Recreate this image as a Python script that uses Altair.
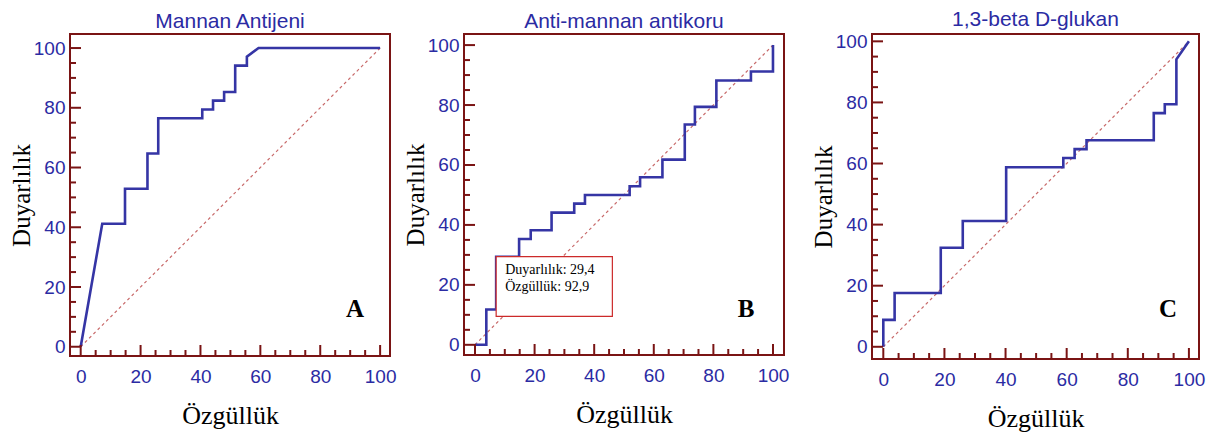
import altair as alt
import pandas as pd

# ---------------- data ----------------
titles = ["Mannan Antijeni", "Anti-mannan antikoru", "1,3-beta D-glukan"]
letters = ["A", "B", "C"]
x_title = "Özgüllük"
y_title = "Duyarlılık"

major_ticks = [0, 20, 40, 60, 80, 100]
minor_ticks = [5, 10, 15, 25, 30, 35, 45, 50, 55, 65, 70, 75, 85, 90, 95]

# Panel A: 100-specificity (x) and sensitivity (y), curve vertices
a_fpr = [0, 7.2, 14.8, 14.8, 22.3, 22.3, 25.9, 25.9, 40.6, 40.6, 44.2, 44.2,
         47.9, 47.9, 51.6, 51.6, 55.5, 55.5, 59.4, 100]
a_tpr = [0, 41.2, 41.2, 52.9, 52.9, 64.7, 64.7, 76.5, 76.5, 79.4, 79.4, 82.4,
         82.4, 85.3, 85.3, 94.1, 94.1, 97.1, 100, 100]

# Panel B
b_fpr = [0, 3.8, 3.8, 7.1, 7.1, 14.8, 14.8, 18.7, 18.7, 25.7, 25.7, 33.3, 33.3,
         36.9, 36.9, 51.9, 51.9, 55.4, 55.4, 62.9, 62.9, 70.4, 70.4, 73.8, 73.8,
         81.0, 81.0, 92.6, 92.6, 100, 100]
b_tpr = [0, 0, 11.8, 11.8, 29.4, 29.4, 35.3, 35.3, 38.2, 38.2, 44.1, 44.1, 47.1,
         47.1, 50.0, 50.0, 52.9, 52.9, 55.9, 55.9, 61.8, 61.8, 73.5, 73.5, 79.4,
         79.4, 88.2, 88.2, 91.2, 91.2, 100]
b_cut_sens = 29.4
b_cut_spec = 92.9

# Panel C
c_fpr = [0, 0, 3.7, 3.7, 18.8, 18.8, 26.0, 26.0, 40.2, 40.2, 58.9, 58.9, 62.6,
         62.6, 66.5, 66.5, 88.5, 88.5, 92.1, 92.1, 95.9, 95.9, 100]
c_tpr = [0, 8.8, 8.8, 17.6, 17.6, 32.4, 32.4, 41.2, 41.2, 58.8, 58.8, 61.8, 61.8,
         64.7, 64.7, 67.6, 67.6, 76.5, 76.5, 79.4, 79.4, 94.1, 100]

# ---------------- styles ----------------
BLUE = "#2b2ba3"
LINE_BLUE = "#3535a5"
FRAME = "#7a1414"
DIAG = "#c86a6a"
SANS = "Liberation Sans"
SERIF = "Liberation Serif"
MAJ_LEN = 11   # px
MIN_LEN = 6    # px


def fmt(v):
    return f"{v:.1f}".replace(".", ",")


def panel(fpr, tpr, title, letter, w, h, xdom, ydom, letter_px, box=False):
    xs = alt.Scale(domain=xdom, nice=False, zero=False)
    ys = alt.Scale(domain=ydom, nice=False, zero=False)
    xpp = (xdom[1] - xdom[0]) / w   # data units per px
    ypp = (ydom[1] - ydom[0]) / h

    xaxis = alt.Axis(values=major_ticks, ticks=False, tickSize=0, domain=False,
                     grid=False, labelPadding=11, labelFont=SANS, labelFontSize=19,
                     labelColor=BLUE, labelFlush=False, labelOverlap=False,
                     title=x_title, titleFont=SERIF, titleFontSize=26,
                     titleFontWeight="normal", titleColor="black", titlePadding=16)
    yaxis = alt.Axis(values=major_ticks, ticks=False, tickSize=0, domain=False,
                     grid=False, labelPadding=5, labelFont=SANS, labelFontSize=19,
                     labelColor=BLUE, labelFlush=False, labelOverlap=False,
                     title=y_title, titleFont=SERIF, titleFontSize=25,
                     titleFontWeight="normal", titleColor="black", titlePadding=-1)

    def X(f):
        return alt.X(f, scale=xs, axis=xaxis)

    def Y(f):
        return alt.Y(f, scale=ys, axis=yaxis)

    curve_df = pd.DataFrame({"x": fpr, "y": tpr, "i": list(range(len(fpr)))})
    diag_df = pd.DataFrame({"x": [major_ticks[0], major_ticks[-1]],
                            "y": [major_ticks[0], major_ticks[-1]]})

    diag = alt.Chart(diag_df).mark_line(color=DIAG, strokeWidth=1.2,
                                        strokeDash=[3, 3]).encode(
        x=X("x:Q"), y=Y("y:Q"))

    curve = alt.Chart(curve_df).mark_line(color=LINE_BLUE, strokeWidth=2.6).encode(
        x=X("x:Q"), y=Y("y:Q"), order=alt.Order("i:Q"))

    def xt(vals, ln):
        df = pd.DataFrame({"x": vals, "y": [ydom[0]] * len(vals),
                           "y2": [ydom[0] + ln * ypp] * len(vals)})
        return alt.Chart(df).mark_rule(color=FRAME, strokeWidth=2).encode(
            x=X("x:Q"), y=Y("y:Q"), y2="y2:Q")

    def yt(vals, ln):
        df = pd.DataFrame({"y": vals, "x": [xdom[0]] * len(vals),
                           "x2": [xdom[0] + ln * xpp] * len(vals)})
        return alt.Chart(df).mark_rule(color=FRAME, strokeWidth=2).encode(
            y=Y("y:Q"), x=X("x:Q"), x2="x2:Q")

    lab = alt.Chart(pd.DataFrame({"t": [letter]})).mark_text(
        font=SERIF, fontSize=25, fontWeight="bold", color="black",
        align="center", baseline="middle").encode(
        x=alt.value(w - letter_px[0]), y=alt.value(h - letter_px[1]), text="t:N")

    layers = [diag, curve, xt(major_ticks, MAJ_LEN), xt(minor_ticks, MIN_LEN),
              yt(major_ticks, MAJ_LEN), yt(minor_ticks, MIN_LEN), lab]

    if box:
        bx = 100 - b_cut_spec
        by = b_cut_sens
        box_df = pd.DataFrame({"x": [bx], "y": [by], "x2": [bx + 39.0],
                               "y2": [by - 19.9],
                               "l1": [f"{y_title}: {fmt(b_cut_sens)}"],
                               "l2": [f"{x_title}: {fmt(b_cut_spec)}"]})
        rect = alt.Chart(box_df).mark_rect(fill="white", stroke="#cc2a2a",
                                           strokeWidth=1.2).encode(
            x=X("x:Q"), x2="x2:Q", y=Y("y:Q"), y2="y2:Q")
        t1 = alt.Chart(box_df).mark_text(font=SERIF, fontSize=14, color="black",
                                         align="left", baseline="middle",
                                         dx=9, dy=13).encode(
            x=X("x:Q"), y=Y("y:Q"), text="l1:N")
        t2 = alt.Chart(box_df).mark_text(font=SERIF, fontSize=14, color="black",
                                         align="left", baseline="middle",
                                         dx=9, dy=30.6).encode(
            x=X("x:Q"), y=Y("y:Q"), text="l2:N")
        layers += [rect, t1, t2]

    return alt.layer(*layers).properties(
        width=w, height=h,
        view=alt.ViewBackground(stroke=FRAME, strokeWidth=2),
        title=alt.TitleParams(text=title, font=SANS, fontSize=21,
                              fontWeight="normal", color=BLUE, offset=2,
                              frame="group", anchor="middle"))


def spacer(w):
    return alt.Chart(pd.DataFrame({"t": [""]})).mark_text().encode(
        x=alt.value(0), y=alt.value(0), text="t:N").properties(
        width=w, height=10, view=alt.ViewBackground(stroke="transparent"))


pA = panel(a_fpr, a_tpr, titles[0], letters[0], 320, 322,
           [-3.57, 103.3], [-3.1, 104.7], (35, 47))
pB = panel(b_fpr, b_tpr, titles[1], letters[1], 320, 321,
           [-3.69, 103.7], [-3.4, 103.7], (38, 46), box=True)
pC = panel(c_fpr, c_tpr, titles[2], letters[2], 327, 325,
           [-3.7, 103.3], [-4.0, 102.4], (31, 50))

chart = alt.hconcat(pA, spacer(74), pB, spacer(88), pC, spacing=0,
                    bounds="flush").properties(
    padding={"left": 0, "top": 0, "right": 0, "bottom": 0},
    background="white"
)

chart.save("out.html", embed_options={"renderer": "svg", "actions": False})
